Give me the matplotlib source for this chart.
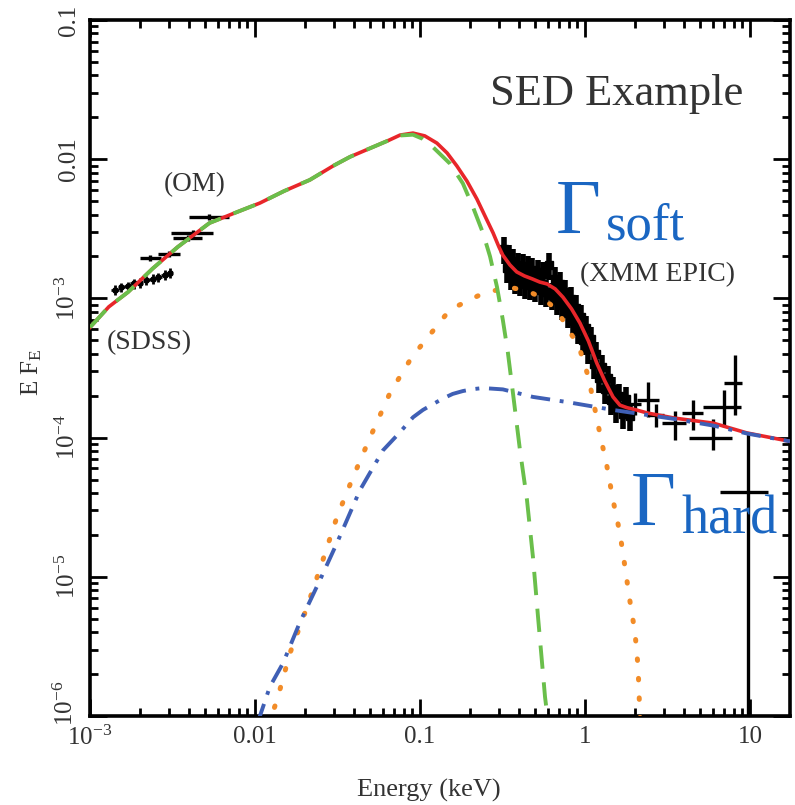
import matplotlib
matplotlib.use("Agg")
import matplotlib.pyplot as plt
import numpy as np
from matplotlib.ticker import FixedLocator, LogLocator, NullFormatter

plt.rcParams['font.family'] = 'serif'
plt.rcParams['font.serif'] = ['Liberation Serif', 'DejaVu Serif']
plt.rcParams['mathtext.fontset'] = 'custom'
plt.rcParams['mathtext.rm'] = 'Liberation Serif'
plt.rcParams['mathtext.it'] = 'Liberation Serif:italic'

# --- model curves ---
total_E = [0.001, 0.0013, 0.0017, 0.0024, 0.0034, 0.0053, 0.0075, 0.0107, 0.015,
           0.0215, 0.030, 0.0377, 0.050, 0.065, 0.0757, 0.0907, 0.107, 0.1266, 0.146,
           0.1675, 0.1926, 0.2215, 0.2478, 0.2777, 0.3013, 0.3175, 0.351, 0.386,
           0.430, 0.480, 0.533, 0.590, 0.660, 0.736, 0.830, 0.933, 1.05, 1.18, 1.32,
           1.48, 1.63, 1.80, 2.05, 2.40, 3.5, 6.0, 9.6, 17.5]
total_F = [6.2e-4, 8.7e-4, 1.11e-3, 1.64e-3, 2.34e-3, 3.48e-3, 4.1e-3, 4.84e-3, 5.9e-3,
           7.1e-3, 9.0e-3, 1.04e-2, 1.20e-2, 1.37e-2, 1.49e-2, 1.54e-2, 1.47e-2, 1.306e-2, 1.109e-2,
           8.93e-3, 6.97e-3, 5.17e-3, 3.91e-3, 2.95e-3, 2.34e-3, 2.05e-3, 1.74e-3, 1.55e-3,
           1.45e-3, 1.38e-3, 1.31e-3, 1.27e-3, 1.17e-3, 1.02e-3, 8.4e-4, 6.65e-4, 4.94e-4, 3.43e-4, 2.55e-4,
           1.96e-4, 1.71e-4, 1.64e-4, 1.58e-4, 1.50e-4, 1.38e-4, 1.27e-4, 1.08e-4, 9.4e-5]

disk_E = [0.001, 0.0013, 0.0017, 0.0024, 0.0034, 0.0053, 0.0075, 0.0107, 0.015,
          0.0215, 0.030, 0.0377, 0.050, 0.065, 0.0757, 0.0907, 0.104, 0.120,
          0.152, 0.182, 0.210, 0.241, 0.266, 0.293, 0.318, 0.341, 0.366, 0.404,
          0.445, 0.484, 0.520, 0.573, 0.610]
disk_F = [6.2e-4, 8.7e-4, 1.11e-3, 1.64e-3, 2.34e-3, 3.48e-3, 4.1e-3, 4.84e-3, 5.9e-3,
          7.1e-3, 9.0e-3, 1.04e-2, 1.20e-2, 1.37e-2, 1.48e-2, 1.50e-2, 1.40e-2, 1.22e-2,
          9.3e-3, 6.7e-3, 4.5e-3, 2.95e-3, 2.0e-3, 1.21e-3, 7.0e-4, 4.1e-4, 2.1e-4, 8.1e-5,
          3.6e-5, 1.39e-5, 5.1e-6, 1.37e-6, 7.5e-7]

soft_E = [0.0120, 0.0136, 0.0163, 0.0207, 0.0258, 0.0314, 0.0393, 0.0498, 0.0658, 0.087,
          0.100, 0.152, 0.231, 0.293, 0.366, 0.465, 0.556, 0.676, 0.778, 0.845, 0.933,
          1.05, 1.23, 1.36, 1.48, 1.63, 1.75, 1.87, 2.01, 2.10, 2.15, 2.18]
soft_F = [8.5e-7, 1.3e-6, 2.83e-6, 6.07e-6, 1.32e-5, 2.69e-5, 5.2e-5, 1.0e-4, 2.09e-4, 3.6e-4,
          4.47e-4, 8.3e-4, 1.06e-3, 1.15e-3, 1.19e-3, 1.11e-3, 1.0e-3, 8.3e-4, 6.2e-4, 5.3e-4, 4.27e-4,
          2.72e-4, 1.08e-4, 6.2e-5, 3.56e-5, 2.06e-5, 1.17e-5, 6.8e-6, 4.0e-6, 2.25e-6, 1.05e-6, 8e-7]

hard_E = [0.0104, 0.0123, 0.0148, 0.0187, 0.0248, 0.0314, 0.0433, 0.0597, 0.075, 0.0908,
          0.1042, 0.120, 0.138, 0.158, 0.182, 0.210, 0.241, 0.318, 0.484, 0.78, 1.48,
          3.5, 6.0, 9.6, 17.5]
hard_F = [9e-7, 1.62e-6, 2.4e-6, 4.7e-6, 9.5e-6, 1.75e-5, 4.2e-5, 8.1e-5, 1.08e-4, 1.4e-4,
          1.58e-4, 1.74e-4, 1.91e-4, 2.06e-4, 2.16e-4, 2.23e-4, 2.27e-4, 2.22e-4, 1.96e-4, 1.8e-4,
          1.58e-4, 1.36e-4, 1.22e-4, 1.07e-4, 9.4e-5]

# --- data points ---
sdss_E = [1.42e-3, 1.55e-3, 1.7e-3, 1.85e-3, 2.0e-3, 2.2e-3, 2.4e-3, 2.6e-3, 2.85e-3, 3.05e-3]
sdss_F = [1.15e-3, 1.2e-3, 1.22e-3, 1.28e-3, 1.3e-3, 1.35e-3, 1.38e-3, 1.42e-3, 1.48e-3, 1.52e-3]

om_E = [2.3e-3, 3.0e-3, 3.9e-3, 4.2e-3, 5.3e-3]
om_Elo = [2.0e-3, 2.6e-3, 3.2e-3, 3.1e-3, 4.0e-3]
om_Ehi = [2.7e-3, 3.5e-3, 4.8e-3, 5.6e-3, 7.0e-3]
om_F = [1.95e-3, 2.1e-3, 2.7e-3, 2.95e-3, 3.85e-3]

epic_E = [0.325, 0.335, 0.345, 0.355, 0.365, 0.378, 0.392, 0.406, 0.42, 0.435, 0.45, 0.465,
          0.48, 0.50, 0.52, 0.54, 0.56, 0.58, 0.605, 0.63, 0.655, 0.68, 0.705, 0.73, 0.76,
          0.79, 0.82, 0.85, 0.88, 0.91, 0.945, 0.98, 1.015, 1.05, 1.09, 1.13, 1.175, 1.22,
          1.27, 1.32, 1.375, 1.43, 1.49, 1.55, 1.62, 1.70, 1.78, 1.87]
epic_F = [2.25e-3, 1.65e-3, 1.98e-3, 1.48e-3, 1.85e-3, 1.38e-3, 1.75e-3, 1.33e-3, 1.70e-3, 1.27e-3,
          1.66e-3, 1.24e-3, 1.60e-3, 1.20e-3, 1.55e-3, 1.14e-3, 1.50e-3, 1.12e-3, 1.75e-3, 1.05e-3,
          1.38e-3, 9.8e-4, 1.26e-3, 9.0e-4, 1.12e-3, 7.8e-4, 9.9e-4, 6.9e-4, 8.6e-4, 6.0e-4,
          7.4e-4, 5.0e-4, 6.1e-4, 4.3e-4, 5.1e-4, 3.4e-4, 4.0e-4, 2.7e-4, 3.2e-4, 2.25e-4,
          2.7e-4, 1.85e-4, 2.25e-4, 1.62e-4, 2.0e-4, 1.48e-4, 1.9e-4, 1.42e-4]

hx_E = [2.0, 2.4, 2.7, 3.5, 4.5, 6.0, 7.0, 8.1, 9.7]
hx_Elo = [1.85, 2.06, 2.45, 2.95, 3.9, 4.3, 5.2, 7.0, 6.6]
hx_Ehi = [2.2, 2.83, 3.0, 4.1, 5.2, 7.8, 8.8, 9.0, 12.8]
hx_F = [1.75e-4, 1.86e-4, 1.45e-4, 1.27e-4, 1.5e-4, 1.0e-4, 1.66e-4, 2.45e-4, 4.1e-5]
hx_Flo = [1.45e-4, 1.4e-4, 1.2e-4, 9.6e-5, 1.14e-4, 8.2e-5, 1.2e-4, 1.45e-4, 1e-8]
hx_Fhi = [2.1e-4, 2.5e-4, 1.75e-4, 1.56e-4, 1.86e-4, 1.36e-4, 2.2e-4, 3.9e-4, 1.1e-4]

x_ticks = [1e-3, 0.01, 0.1, 1, 10]
x_ticklabels = [r'$10^{-3}$', '0.01', '0.1', '1', '10']
y_ticks = [1e-6, 1e-5, 1e-4, 1e-3, 0.01, 0.1]
y_ticklabels = [r'$10^{-6}$', r'$10^{-5}$', r'$10^{-4}$', r'$10^{-3}$', '0.01', '0.1']

W, H = 795, 805
fig = plt.figure(figsize=(W / 100, H / 100), dpi=100)
ax = fig.add_axes([90 / W, 1 - 716 / H, 700 / W, 696 / H])

def fpos(x, y):
    return x / W, 1 - y / H

# data
sdss_E = np.array(sdss_E); sdss_F = np.array(sdss_F)
ax.errorbar(sdss_E, sdss_F, xerr=0.05 * sdss_E, yerr=0.08 * sdss_F, fmt='s', ms=3.5,
            color='black', elinewidth=2, capsize=0, zorder=2)
om_E = np.array(om_E); om_F = np.array(om_F)
ax.errorbar(om_E, om_F, xerr=[om_E - np.array(om_Elo), np.array(om_Ehi) - om_E],
            yerr=0.05 * om_F, fmt='none', ecolor='black', elinewidth=2.4, capsize=0, zorder=2)
epic_E = np.array(epic_E); epic_F = np.array(epic_F)
ax.errorbar(epic_E, epic_F, xerr=0.03 * epic_E, yerr=0.22 * epic_F, fmt='s', ms=6,
            color='black', elinewidth=4, capsize=0, zorder=2)
hx_E = np.array(hx_E); hx_F = np.array(hx_F)
ax.errorbar(hx_E, hx_F, xerr=[hx_E - np.array(hx_Elo), np.array(hx_Ehi) - hx_E],
            yerr=[hx_F - np.array(hx_Flo), np.array(hx_Fhi) - hx_F], fmt='none',
            ecolor='black', elinewidth=2.4, capsize=0, zorder=2)

# models
ax.plot(total_E, total_F, color='#e8262a', lw=2.6, zorder=3)
ax.plot(soft_E, soft_F, color='#f28c28', lw=3.6, linestyle=(0, (0.3, 3.6)),
        dash_capstyle='round', zorder=4)
ax.plot(disk_E, disk_F, color='#6abf4b', lw=2.8, linestyle=(0, (6, 3.5)), zorder=5)
ax.plot(hard_E, hard_F, color='#3f5fb5', lw=2.8, linestyle=(0, (5, 2.5, 1, 2.5)), zorder=5)

ax.set_xscale('log')
ax.set_yscale('log')
ax.set_xlim(1e-3, 17.5)
ax.set_ylim(1e-6, 0.1)

txt = '#333333'
ax.xaxis.set_major_locator(FixedLocator(x_ticks))
ax.set_xticklabels(x_ticklabels)
ax.xaxis.set_minor_locator(LogLocator(base=10, subs=np.arange(2, 10), numticks=20))
ax.xaxis.set_minor_formatter(NullFormatter())
ax.yaxis.set_major_locator(FixedLocator(y_ticks))
# the lowest y label sits a little above its tick in the reference
ax.set_yticklabels([''] + y_ticklabels[1:], rotation=90, va='center', ha='right')
fig.text(*fpos(78, 703), y_ticklabels[0], rotation=90, ha='right', va='center',
         fontsize=18, color=txt)
ax.yaxis.set_minor_locator(LogLocator(base=10, subs=np.arange(2, 10), numticks=20))
ax.yaxis.set_minor_formatter(NullFormatter())

ax.tick_params(which='both', direction='in', top=True, right=True, width=2, colors='black',
               labelcolor=txt, labelsize=18)
ax.tick_params(which='major', length=12, pad=7)
ax.tick_params(which='minor', length=6)
for s in ax.spines.values():
    s.set_linewidth(2.6)

fig.text(*fpos(32, 372), r'E F$_{\mathrm{E}}$', rotation=90, ha='center', va='center',
         fontsize=18, color=txt)
fig.text(*fpos(429, 790), 'Energy (keV)', ha='center', va='center', fontsize=19, color=txt)

fig.text(*fpos(490, 105), 'SED Example', fontsize=32, color=txt, va='baseline')
fig.text(*fpos(164, 191), '(OM)', fontsize=19.5, color=txt, va='baseline')
fig.text(*fpos(107, 349), '(SDSS)', fontsize=20, color=txt, va='baseline')
fig.text(*fpos(580, 281), '(XMM EPIC)', fontsize=20, color=txt, va='baseline')

blue = '#1a66c2'
fig.text(*fpos(556, 233), '\u0393', fontsize=56, color=blue, va='baseline')
fig.text(*fpos(606, 240), 'soft', fontsize=38, color=blue, va='baseline')
fig.text(*fpos(631, 525), '\u0393', fontsize=56, color=blue, va='baseline')
fig.text(*fpos(681, 533), 'hard', fontsize=39, color=blue, va='baseline')

fig.savefig('out.png', dpi=100)
